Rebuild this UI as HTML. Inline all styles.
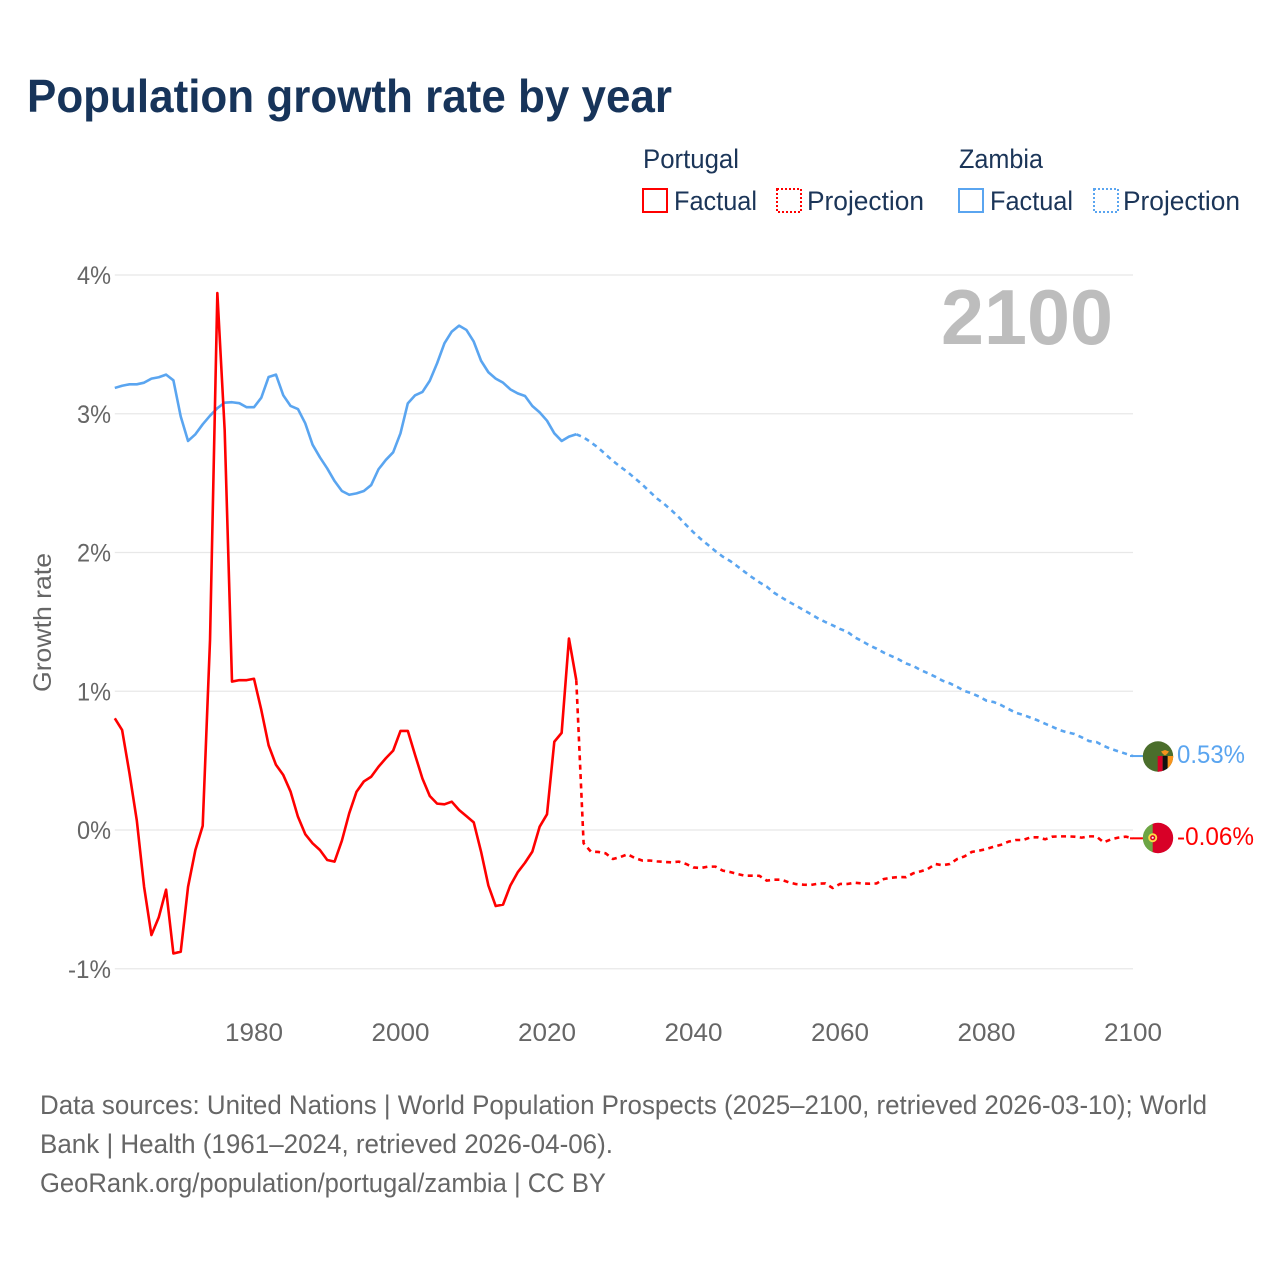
<!DOCTYPE html>
<html lang="en">
<head>
<meta charset="utf-8">
<title>Population growth rate by year</title>
<style>
html,body{margin:0;padding:0;background:#fff;}
body{width:1280px;height:1280px;overflow:hidden;}
svg{display:block;}
text{font-family:"Liberation Sans",sans-serif;}
</style>
</head>
<body>
<svg id="chart" xmlns="http://www.w3.org/2000/svg" width="1280" height="1280" viewBox="0 0 1280 1280">
  <rect x="0" y="0" width="1280" height="1280" fill="#fff"/>
  <text x="27" y="112" font-size="46" font-weight="700" fill="#17345a" textLength="645" lengthAdjust="spacingAndGlyphs">Population growth rate by year</text>

  <g font-size="27" fill="#1b3558">
    <text x="643" y="168" textLength="96" lengthAdjust="spacingAndGlyphs">Portugal</text>
    <text x="959" y="168" textLength="84" lengthAdjust="spacingAndGlyphs">Zambia</text>
    <g>
      <rect x="643" y="189" width="24" height="23" fill="none" stroke="#ff0000" stroke-width="2"/>
      <text x="674" y="210" textLength="83" lengthAdjust="spacingAndGlyphs">Factual</text>
    </g>
    <g>
      <rect x="777" y="189" width="24" height="23" fill="none" stroke="#ff0000" stroke-width="2" stroke-dasharray="2 2"/>
      <text x="807" y="210" textLength="117" lengthAdjust="spacingAndGlyphs">Projection</text>
    </g>
    <g>
      <rect x="959" y="189" width="24" height="23" fill="none" stroke="#5aa5f0" stroke-width="2"/>
      <text x="990" y="210" textLength="83" lengthAdjust="spacingAndGlyphs">Factual</text>
    </g>
    <g>
      <rect x="1094" y="189" width="24" height="23" fill="none" stroke="#5aa5f0" stroke-width="2" stroke-dasharray="2 2"/>
      <text x="1123" y="210" textLength="117" lengthAdjust="spacingAndGlyphs">Projection</text>
    </g>
  </g>

  <g id="grid"></g>
  <g id="yticks"></g>
  <g id="xticks"></g>

  <text transform="translate(51,692) rotate(-90)" x="0" y="0" font-size="25" fill="#666" textLength="139" lengthAdjust="spacingAndGlyphs">Growth rate</text>
  <text x="941" y="344" font-size="78" font-weight="700" fill="#bdbdbd" textLength="172" lengthAdjust="spacingAndGlyphs">2100</text>

  <g id="series"></g>

  <defs>
    <clipPath id="clip-zambia"><circle cx="1158" cy="756.5" r="15.2"/></clipPath>
    <clipPath id="clip-portugal"><circle cx="1158" cy="838" r="15.2"/></clipPath>
  </defs>

  <g clip-path="url(#clip-zambia)">
    <rect x="1142" y="741" width="32" height="32" fill="#4b6e2c"/>
    <rect x="1157.7" y="756" width="5" height="16" fill="#d80027"/>
    <rect x="1162.7" y="756" width="5" height="16" fill="#111"/>
    <rect x="1167.7" y="756" width="6" height="16" fill="#f7941d"/>
    <path d="M1161 751.5 L1165 750 L1169 751.5 L1167 754 L1165 755.5 L1163 754 Z" fill="#f7941d"/>
  </g>
  <g clip-path="url(#clip-portugal)">
    <rect x="1142" y="822" width="11" height="32" fill="#6da544"/>
    <rect x="1152.7" y="822" width="22" height="32" fill="#d80027"/>
    <circle cx="1152.7" cy="837.7" r="4.5" fill="#ffda44"/>
    <circle cx="1152.7" cy="837.7" r="2.6" fill="#d80027"/>
    <circle cx="1152.7" cy="837.7" r="1.1" fill="#f0f0f0"/>
  </g>

  <text id="label-zambia" x="1177" y="763" font-size="25" fill="#5aa5f0" textLength="68" lengthAdjust="spacingAndGlyphs">0.53%</text>
  <text id="label-portugal" x="1177" y="845" font-size="25" fill="#ff0000" textLength="77" lengthAdjust="spacingAndGlyphs">-0.06%</text>

  <g font-size="27" fill="#666">
    <text x="40" y="1114" textLength="1167" lengthAdjust="spacingAndGlyphs">Data sources: United Nations | World Population Prospects (2025–2100, retrieved 2026-03-10); World</text>
    <text x="40" y="1153" textLength="573" lengthAdjust="spacingAndGlyphs">Bank | Health (1961–2024, retrieved 2026-04-06).</text>
    <text x="40" y="1192" textLength="566" lengthAdjust="spacingAndGlyphs">GeoRank.org/population/portugal/zambia | CC BY</text>
  </g>
</svg>

<script>
const factualYears = [1961,1962,1963,1964,1965,1966,1967,1968,1969,1970,1971,1972,1973,1974,1975,1976,1977,1978,1979,1980,1981,1982,1983,1984,1985,1986,1987,1988,1989,1990,1991,1992,1993,1994,1995,1996,1997,1998,1999,2000,2001,2002,2003,2004,2005,2006,2007,2008,2009,2010,2011,2012,2013,2014,2015,2016,2017,2018,2019,2020,2021,2022,2023,2024];
const projectionYears = [2024,2025,2026,2027,2028,2029,2030,2031,2032,2033,2034,2035,2036,2037,2038,2039,2040,2041,2042,2043,2044,2045,2046,2047,2048,2049,2050,2051,2052,2053,2054,2055,2056,2057,2058,2059,2060,2061,2062,2063,2064,2065,2066,2067,2068,2069,2070,2071,2072,2073,2074,2075,2076,2077,2078,2079,2080,2081,2082,2083,2084,2085,2086,2087,2088,2089,2090,2091,2092,2093,2094,2095,2096,2097,2098,2099,2100];
const portugalFactual = [0.805,0.72,0.41,0.07,-0.41,-0.757,-0.63,-0.43,-0.89,-0.877,-0.41,-0.144,0.03,1.37,3.87,2.88,1.07,1.08,1.08,1.09,0.865,0.61,0.47,0.396,0.276,0.096,-0.03,-0.096,-0.144,-0.216,-0.228,-0.077,0.12,0.276,0.35,0.384,0.456,0.517,0.572,0.714,0.714,0.54,0.37,0.245,0.19,0.185,0.204,0.144,0.10,0.055,-0.156,-0.40,-0.548,-0.538,-0.40,-0.305,-0.236,-0.156,0.024,0.113,0.636,0.70,1.38,1.08];
const portugalProjection = [1.08,-0.096,-0.156,-0.158,-0.168,-0.209,-0.195,-0.175,-0.202,-0.22,-0.22,-0.226,-0.23,-0.233,-0.228,-0.245,-0.27,-0.274,-0.264,-0.264,-0.293,-0.303,-0.317,-0.329,-0.329,-0.33,-0.365,-0.358,-0.358,-0.377,-0.39,-0.394,-0.396,-0.387,-0.385,-0.418,-0.389,-0.389,-0.38,-0.385,-0.387,-0.385,-0.353,-0.344,-0.339,-0.34,-0.312,-0.298,-0.281,-0.245,-0.254,-0.245,-0.209,-0.19,-0.158,-0.149,-0.137,-0.12,-0.106,-0.084,-0.072,-0.072,-0.053,-0.053,-0.067,-0.048,-0.046,-0.046,-0.048,-0.055,-0.046,-0.046,-0.089,-0.067,-0.055,-0.048,-0.06];
const zambiaFactual = [3.186,3.202,3.212,3.212,3.224,3.253,3.263,3.282,3.241,2.98,2.804,2.852,2.924,2.986,3.04,3.08,3.083,3.076,3.047,3.047,3.116,3.265,3.282,3.133,3.056,3.034,2.931,2.777,2.686,2.606,2.515,2.443,2.416,2.426,2.443,2.486,2.6,2.667,2.722,2.859,3.075,3.133,3.157,3.238,3.364,3.508,3.592,3.635,3.604,3.52,3.382,3.299,3.253,3.224,3.176,3.147,3.128,3.056,3.01,2.95,2.859,2.804,2.835,2.852];
const zambiaProjection = [2.852,2.83,2.794,2.755,2.707,2.66,2.618,2.58,2.535,2.49,2.44,2.39,2.35,2.304,2.254,2.198,2.145,2.097,2.054,2.01,1.97,1.939,1.90,1.86,1.821,1.785,1.754,1.71,1.677,1.645,1.617,1.586,1.557,1.525,1.499,1.475,1.449,1.429,1.389,1.362,1.331,1.307,1.278,1.254,1.23,1.201,1.182,1.153,1.13,1.105,1.076,1.057,1.031,1.002,0.985,0.961,0.932,0.922,0.90,0.872,0.845,0.83,0.81,0.79,0.766,0.744,0.72,0.704,0.692,0.668,0.641,0.634,0.607,0.584,0.567,0.55,0.533];
const yTickValues = [-1,0,1,2,3,4];
const xTickValues = [1980,2000,2020,2040,2060,2080,2100];

const SVG_NS = 'http://www.w3.org/2000/svg';
const plotLeft = 114.8;
const plotRight = 1133;
const yearMin = 1961;
const yearMax = 2100;
const zeroY = 830;
const unitY = 138.75;

function xScale(year) {
  return plotLeft + (year - yearMin) * (plotRight - plotLeft) / (yearMax - yearMin);
}
function yScale(value) {
  return zeroY - value * unitY;
}
function makePath(years, values) {
  return values.map(function (v, i) {
    return (i ? 'L' : 'M') + xScale(years[i]).toFixed(2) + ' ' + yScale(v).toFixed(2);
  }).join(' ');
}

const gridLayer = document.getElementById('grid');
const yTickLayer = document.getElementById('yticks');
const xTickLayer = document.getElementById('xticks');
const seriesLayer = document.getElementById('series');

yTickValues.forEach(function (v) {
  const line = document.createElementNS(SVG_NS, 'line');
  
  
  line.setAttribute('x1', plotLeft);
  line.setAttribute('x2', plotRight);
  line.setAttribute('y1', yScale(v));
  line.setAttribute('y2', yScale(v));
  line.setAttribute('stroke', '#e8e8e8');
  line.setAttribute('stroke-width', '1.2');
  gridLayer.appendChild(line);

  const label = document.createElementNS(SVG_NS, 'text');
  
  
  label.setAttribute('x', 111);
  label.setAttribute('y', yScale(v) + 9);
  label.setAttribute('text-anchor', 'end');
  label.setAttribute('font-size', '25');
  label.setAttribute('fill', '#666');
  label.setAttribute('textLength', v < 0 ? 43 : 34);
  label.setAttribute('lengthAdjust', 'spacingAndGlyphs');
  label.textContent = v + '%';
  yTickLayer.appendChild(label);
});

xTickValues.forEach(function (year) {
  const label = document.createElementNS(SVG_NS, 'text');
  
  
  label.setAttribute('x', xScale(year));
  label.setAttribute('y', 1041);
  label.setAttribute('text-anchor', 'middle');
  label.setAttribute('font-size', '25');
  label.setAttribute('fill', '#666');
  label.setAttribute('textLength', 58);
  label.setAttribute('lengthAdjust', 'spacingAndGlyphs');
  label.textContent = String(year);
  xTickLayer.appendChild(label);
});

function drawSeries(name, years, values, color, dashed) {
  const path = document.createElementNS(SVG_NS, 'path');
  
  
  path.setAttribute('d', makePath(years, values));
  path.setAttribute('fill', 'none');
  path.setAttribute('stroke', color);
  path.setAttribute('stroke-width', '2.6');
  path.setAttribute('stroke-linejoin', 'round');
  if (dashed) {
    path.setAttribute('stroke-dasharray', '5 4.4');
  }
  seriesLayer.appendChild(path);
}

function drawConnector(name, year, value, color) {
  const line = document.createElementNS(SVG_NS, 'line');
  
  
  line.setAttribute('x1', xScale(year) - 3);
  line.setAttribute('x2', xScale(year) + 11);
  line.setAttribute('y1', yScale(value));
  line.setAttribute('y2', yScale(value));
  line.setAttribute('stroke', color);
  line.setAttribute('stroke-width', '2');
  seriesLayer.appendChild(line);
}

drawSeries('zambia-factual-line', factualYears, zambiaFactual, '#5aa5f0', false);
drawSeries('zambia-projection-line', projectionYears, zambiaProjection, '#5aa5f0', true);
drawSeries('portugal-factual-line', factualYears, portugalFactual, '#ff0000', false);
drawSeries('portugal-projection-line', projectionYears, portugalProjection, '#ff0000', true);
drawConnector('zambia-end-connector', yearMax, zambiaProjection[zambiaProjection.length - 1], '#5aa5f0');
drawConnector('portugal-end-connector', yearMax, portugalProjection[portugalProjection.length - 1], '#ff0000');
</script>
</body>
</html>
